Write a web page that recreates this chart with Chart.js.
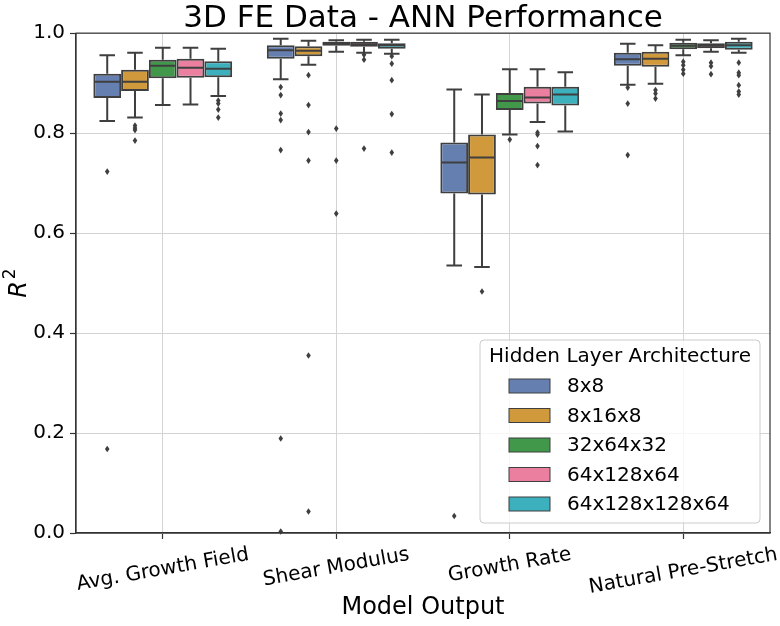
<!DOCTYPE html>
<html><head><meta charset="utf-8">
<script src="https://cdn.jsdelivr.net/npm/chart.js@4"></script>
<style>html,body{margin:0;padding:0;background:#fff}#wrap{width:780px;height:626px}</style>
</head><body><div id="wrap"><canvas id="c" width="780" height="626"></canvas></div>
<script>
// ---- data ----
const categories = ["Avg. Growth Field", "Shear Modulus", "Growth Rate", "Natural Pre-Stretch"];
const architectures = ["8x8", "8x16x8", "32x64x32", "64x128x64", "64x128x128x64"];
const colors = ["#6580b0", "#d0993b", "#41984b", "#ea7fa0", "#3db0bd"];
// rows = architectures, columns = categories
const whiskerLow = [
  [0.824, 0.908, 0.535, 0.897],
  [0.831, 0.937, 0.532, 0.899],
  [0.856, 0.963, 0.797, 0.956],
  [0.857, 0.961, 0.822, 0.963],
  [0.874, 0.959, 0.803, 0.961]
];
const q1 = [
  [0.870, 0.949, 0.679, 0.935],
  [0.884, 0.954, 0.677, 0.933],
  [0.910, 0.975, 0.846, 0.968],
  [0.911, 0.973, 0.859, 0.970],
  [0.912, 0.969, 0.855, 0.967]
];
const median = [
  [0.903, 0.966, 0.741, 0.948],
  [0.903, 0.965, 0.751, 0.949],
  [0.935, 0.979, 0.864, 0.975],
  [0.931, 0.978, 0.871, 0.975],
  [0.929, 0.976, 0.877, 0.976]
];
const q3 = [
  [0.919, 0.976, 0.781, 0.961],
  [0.927, 0.974, 0.797, 0.963],
  [0.947, 0.983, 0.880, 0.981],
  [0.949, 0.983, 0.893, 0.980],
  [0.944, 0.980, 0.893, 0.983]
];
const whiskerHigh = [
  [0.956, 0.989, 0.887, 0.979],
  [0.961, 0.985, 0.877, 0.976],
  [0.971, 0.986, 0.928, 0.987],
  [0.971, 0.987, 0.928, 0.986],
  [0.969, 0.987, 0.922, 0.989]
];
const outliers = [
  [[0.723, 0.168], [0.892, 0.876, 0.839, 0.826, 0.766, 0.189, 0.003], [0.034], [0.891, 0.859, 0.756]],
  [[0.815, 0.810, 0.806, 0.785], [0.916, 0.856, 0.802, 0.745, 0.355, 0.043], [0.483], [0.886, 0.879, 0.869]],
  [[], [0.809, 0.745, 0.639], [0.787], [0.943, 0.936, 0.927, 0.919]],
  [[], [0.957, 0.947, 0.769], [0.801, 0.797, 0.774, 0.736], [0.941, 0.934, 0.918]],
  [[0.865, 0.859, 0.847, 0.831], [0.954, 0.939, 0.906, 0.838, 0.761], [], [0.941, 0.921, 0.916, 0.896, 0.883, 0.877]]
];
const yTicks = [0, 0.2, 0.4, 0.6, 0.8, 1.0];

// ---- styling ----
const FONT = "DejaVu Sans";
const EDGE = "#3f3f3f";
const GRID = "#d4d4d4";
const AXIS = "#333333";
Chart.defaults.font.family = FONT;
Chart.defaults.color = "#000";

const boxExtras = {
  id: "boxExtras",
  beforeDraw(chart) {
    const {ctx} = chart;
    ctx.save();
    ctx.fillStyle = "#fff";
    ctx.fillRect(0, 0, chart.width, chart.height);
    ctx.restore();
  },
  afterDatasetsDraw(chart) {
    const {ctx, scales: {y}} = chart;
    ctx.save();
    ctx.strokeStyle = EDGE;
    ctx.fillStyle = EDGE;
    ctx.lineWidth = 2;
    ctx.lineCap = "butt";
    chart.data.datasets.forEach((ds, s) => {
      const meta = chart.getDatasetMeta(s);
      meta.data.forEach((bar, i) => {
        const x = bar.x, w = bar.width;
        const cap = w * 0.28;
        const yl = y.getPixelForValue(whiskerLow[s][i]);
        const yq1 = y.getPixelForValue(q1[s][i]);
        const yq3 = y.getPixelForValue(q3[s][i]);
        const yh = y.getPixelForValue(whiskerHigh[s][i]);
        const ym = y.getPixelForValue(median[s][i]);
        ctx.beginPath();
        ctx.moveTo(x, yq1); ctx.lineTo(x, yl);
        ctx.moveTo(x - cap, yl); ctx.lineTo(x + cap, yl);
        ctx.moveTo(x, yq3); ctx.lineTo(x, yh);
        ctx.moveTo(x - cap, yh); ctx.lineTo(x + cap, yh);
        ctx.moveTo(x - w / 2 + 1, ym); ctx.lineTo(x + w / 2 - 1, ym);
        ctx.stroke();
        outliers[s][i].forEach(v => {
          const py = y.getPixelForValue(v);
          ctx.beginPath();
          ctx.moveTo(x, py - 3.3);
          ctx.lineTo(x + 2.3, py);
          ctx.lineTo(x, py + 3.3);
          ctx.lineTo(x - 2.3, py);
          ctx.closePath();
          ctx.fill();
        });
      });
    });
    ctx.restore();
  },
  afterDraw(chart) {
    const {ctx, chartArea: a, scales: {x}} = chart;
    ctx.save();
    // frame (all four spines)
    ctx.strokeStyle = AXIS;
    ctx.lineWidth = 1.2;
    ctx.strokeRect(a.left, a.top, a.right - a.left, a.bottom - a.top);
    // y axis title: italic R with superscript 2
    ctx.save();
    ctx.translate(17, (a.top + a.bottom) / 2);
    ctx.rotate(-Math.PI / 2);
    ctx.fillStyle = "#000";
    ctx.textBaseline = "alphabetic";
    ctx.textAlign = "left";
    ctx.font = "italic 24px '" + FONT + "'";
    const wR = ctx.measureText("R").width;
    ctx.font = "17px '" + FONT + "'";
    const w2 = ctx.measureText("2").width;
    const x0 = -(wR + w2 + 2) / 2;
    ctx.font = "italic 24px '" + FONT + "'";
    ctx.fillText("R", x0, 8.5);
    ctx.font = "17px '" + FONT + "'";
    ctx.fillText("2", x0 + wR + 2, -2.5);
    ctx.restore();
    // rotated category labels, centered on ticks
    const ang = 10 * Math.PI / 180;
    ctx.font = "20px '" + FONT + "'";
    ctx.fillStyle = "#000";
    ctx.textAlign = "center";
    ctx.textBaseline = "middle";
    categories.forEach((lab, i) => {
      const px = x.getPixelForValue(i);
      const w = ctx.measureText(lab).width;
      const lh = 23.5;
      const boxH = w * Math.sin(ang) + lh * Math.cos(ang);
      const cy = a.bottom + 10 + boxH / 2;
      ctx.save();
      ctx.translate(px, cy);
      ctx.rotate(-ang);
      ctx.fillText(lab, 0, 0);
      ctx.restore();
    });
    // legend
    const lw = 280, lhgt = 183;
    const lx = a.right - 10 - lw, ly = a.bottom - 10 - lhgt;
    ctx.beginPath();
    if (ctx.roundRect) ctx.roundRect(lx, ly, lw, lhgt, 4); else ctx.rect(lx, ly, lw, lhgt);
    ctx.fillStyle = "rgba(255,255,255,0.8)";
    ctx.fill();
    ctx.strokeStyle = "#cccccc";
    ctx.lineWidth = 1;
    ctx.stroke();
    ctx.fillStyle = "#000";
    ctx.textAlign = "center";
    ctx.fillText("Hidden Layer Architecture", lx + lw / 2, ly + 17);
    ctx.textAlign = "left";
    architectures.forEach((name, k) => {
      const ry = ly + 46 + k * 29.5;
      ctx.fillStyle = colors[k];
      ctx.fillRect(lx + 29, ry - 7, 41, 14);
      ctx.strokeStyle = EDGE;
      ctx.lineWidth = 1;
      ctx.strokeRect(lx + 29, ry - 7, 41, 14);
      ctx.fillStyle = "#000";
      ctx.fillText(name, lx + 87, ry + 1);
    });
    ctx.restore();
  }
};

new Chart(document.getElementById("c"), {
  type: "bar",
  data: {
    labels: categories,
    datasets: architectures.map((name, s) => ({
      label: name,
      data: categories.map((c, i) => [q1[s][i], q3[s][i]]),
      backgroundColor: colors[s],
      borderColor: EDGE,
      borderWidth: 2,
      borderSkipped: false,
      categoryPercentage: 0.8,
      barPercentage: 1.0
    }))
  },
  options: {
    responsive: false,
    animation: false,
    devicePixelRatio: 1,
    layout: {padding: {left: 0, right: 10, top: 0, bottom: 0}},
    plugins: {
      legend: {display: false},
      tooltip: {enabled: false},
      title: {
        display: true,
        fullSize: false,
        text: "3D FE Data - ANN Performance",
        font: {family: FONT, size: 31, weight: "normal", lineHeight: 0.94},
        color: "#000",
        padding: {top: 4, bottom: 0}
      }
    },
    scales: {
      x: {
        type: "category",
        grid: {offset: false, color: GRID, lineWidth: 1, drawTicks: true, tickLength: 6, tickColor: AXIS, tickWidth: 1.2},
        border: {display: true, color: AXIS, width: 1.2},
        ticks: {display: false},
        title: {display: true, text: "Model Output", font: {family: FONT, size: 24}, color: "#000", padding: {top: 0, bottom: 4}},
        afterFit: s => { s.height = 93; }
      },
      y: {
        type: "linear",
        min: 0,
        max: 1,
        afterBuildTicks: s => { s.ticks = yTicks.map(v => ({value: v})); },
        ticks: {font: {family: FONT, size: 20}, color: "#000", padding: 5, callback: v => Number(v).toFixed(1)},
        grid: {color: GRID, lineWidth: 1, tickLength: 6, tickColor: AXIS, tickWidth: 1.2},
        border: {display: true, color: AXIS, width: 1.2},
        title: {display: false},
        afterFit: s => { s.width = 76; }
      }
    }
  },
  plugins: [boxExtras]
});
</script>
</body></html>
